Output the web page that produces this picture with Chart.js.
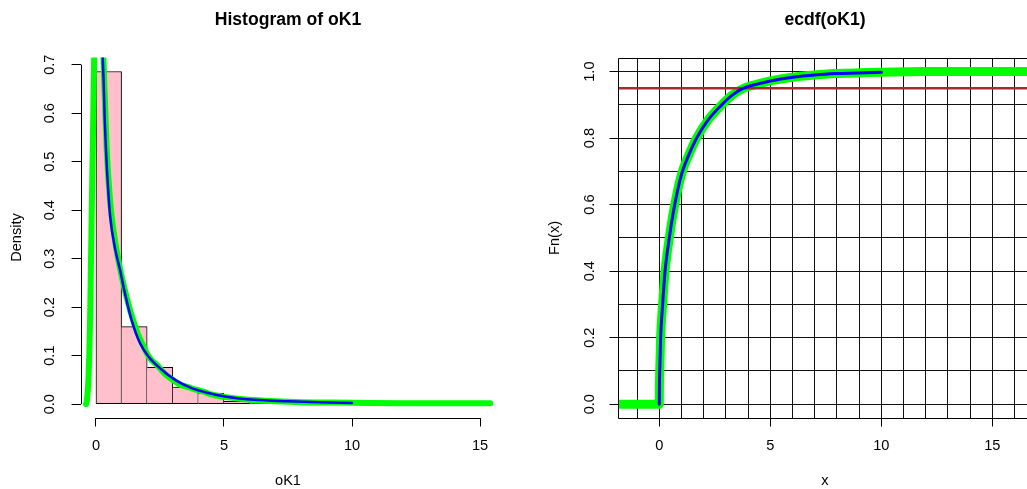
<!DOCTYPE html>
<html>
<head>
<meta charset="utf-8">
<script src="https://cdn.jsdelivr.net/npm/chart.js@4/dist/chart.umd.min.js"></script>
<style>
  html, body { margin: 0; padding: 0; background: #fff; overflow: hidden; }
  #wrap { position: relative; width: 1027px; height: 489px; overflow: hidden; }
  #hist { position: absolute; left: 0; top: 0; }
  #ecdf { position: absolute; left: 513px; top: 0; }
</style>
</head>
<body>
<div id="wrap">
  <canvas id="hist" width="513" height="489"></canvas>
  <canvas id="ecdf" width="530" height="489"></canvas>
</div>
<script>
// histograma: clases de ancho 1 desde 0
let clases = [0.5, 1.5, 2.5, 3.5, 4.5, 5.5, 6.5, 7.5, 8.5, 9.5, 10.5, 11.5, 12.5, 13.5, 14.5]
let densidades = [0.686, 0.160, 0.076, 0.035, 0.023, 0.006, 0.004, 0.002, 0.001, 0.001, 0.0005, 0.0005, 0.0003, 0.0003, 0.0003]

// densidad kernel (verde)
let kernelX = [-0.39, -0.36, -0.30, -0.26, -0.23, -0.20, -0.17, -0.12, -0.06, 0.10, 0.29, 0.42, 0.55, 0.68, 0.9, 1.2, 1.5, 1.8, 2.1, 2.4, 2.7, 3.0, 3.3, 3.6, 3.9, 4.2, 4.5, 5, 6, 7, 8, 10, 12, 15.4]
let kernelY = [0, 0.006, 0.044, 0.106, 0.174, 0.277, 0.38, 0.545, 0.75, 1.0, 0.717, 0.525, 0.42, 0.36, 0.29, 0.22, 0.165, 0.125, 0.095, 0.08, 0.062, 0.05, 0.04, 0.035, 0.03, 0.026, 0.02, 0.015, 0.009, 0.006, 0.004, 0.003, 0.002, 0.002]

// densidad teorica (azul)
let teoX = [0.22, 0.26, 0.30, 0.34, 0.39, 0.48, 0.56, 0.75, 0.94, 1.13, 1.39, 1.72, 2.04, 2.57, 3.09, 3.74, 4.39, 5.04, 6.2, 7.5, 8.7, 10]
let teoY = [0.82, 0.72, 0.665, 0.59, 0.525, 0.44, 0.385, 0.32, 0.277, 0.229, 0.174, 0.126, 0.099, 0.071, 0.05, 0.033, 0.023, 0.016, 0.009, 0.006, 0.004, 0.0025]

// ecdf muestral (verde) y acumulada teorica (azul)
let ecdfX = [-2.5, -0.01, 0, 0.005, 0.02, 0.06, 0.15, 0.26, 0.45, 0.6, 0.8, 1.04, 1.3, 1.68, 2.2, 2.81, 3.3, 3.8, 4.5, 5, 6, 7, 8, 10, 12, 15.3, 18]
let ecdfY = [0, 0, 0, 0.05, 0.1, 0.2, 0.3, 0.4, 0.5, 0.565, 0.635, 0.7, 0.745, 0.8, 0.855, 0.9, 0.93, 0.95, 0.964, 0.972, 0.983, 0.99, 0.994, 0.998, 1, 1, 1]
let acumX = [0, 0.005, 0.02, 0.06, 0.15, 0.26, 0.45, 0.6, 0.8, 1.04, 1.3, 1.68, 2.2, 2.81, 3.3, 3.8, 4.5, 5, 6, 7, 8, 10]
let acumY = [0, 0.05, 0.1, 0.2, 0.3, 0.4, 0.5, 0.565, 0.635, 0.7, 0.745, 0.8, 0.855, 0.9, 0.93, 0.95, 0.964, 0.972, 0.983, 0.99, 0.994, 0.998]
let nivel = 0.95

let puntos = function (xs, ys) {
    return xs.map((x, i) => ({ x: x, y: ys[i] }))
}

Chart.defaults.font.family = 'Liberation Sans, Arial, sans-serif'
Chart.defaults.color = '#000'

let fuente = { size: 14.6, lineHeight: 1 }

// ejes estilo R: linea solo entre primer y ultimo tick, o caja completa
let ejesR = {
    id: 'ejesR',
    afterDatasetsDraw(chart, args, opts) {
        let ctx = chart.ctx
        let a = chart.chartArea
        let sx = chart.scales.x
        let sy = chart.scales.y
        ctx.save()
        ctx.strokeStyle = '#000'
        ctx.lineWidth = 1
        ctx.beginPath()
        if (opts.caja) {
            ctx.rect(Math.round(a.left) + 0.5, Math.round(a.top) + 0.5, a.right - a.left, Math.round(a.bottom) - Math.round(a.top))
        } else {
            let xl = Math.round(a.left) + 0.5
            let yb = Math.round(a.bottom) + 0.5
            ctx.moveTo(sx.getPixelForValue(opts.xDesde), yb)
            ctx.lineTo(sx.getPixelForValue(opts.xHasta), yb)
            ctx.moveTo(xl, sy.getPixelForValue(opts.yDesde))
            ctx.lineTo(xl, sy.getPixelForValue(opts.yHasta))
        }
        ctx.stroke()
        ctx.restore()
    }
}

let linea = function (data, color, ancho) {
    return {
        type: 'line', data: data, borderColor: color, borderWidth: ancho,
        pointRadius: 0, cubicInterpolationMode: 'monotone', fill: false,
        borderCapStyle: 'round', borderJoinStyle: 'round', clip: 0
    }
}

let histograma = new Chart('hist', {
    type: 'bar',
    data: {
        datasets: [
            linea(puntos(teoX, teoY), '#0000ff', 2.5),
            linea(puntos(kernelX, kernelY), '#00ff00', 6),
            {
                type: 'bar',
                data: puntos(clases, densidades),
                backgroundColor: '#ffc0cb',
                borderColor: '#000',
                borderWidth: ctx => ({ left: ctx.dataIndex === 0 ? 1 : 0, right: 1, top: 1, bottom: 1 }),
                borderSkipped: false,
                barPercentage: 1,
                categoryPercentage: 1
            }
        ]
    },
    options: {
        responsive: false,
        animation: false,
        layout: { padding: { left: 0, right: 17.6, top: 0, bottom: 0 } },
        plugins: {
            legend: { display: false },
            tooltip: { enabled: false },
            ejesR: { caja: false, xDesde: 0, xHasta: 15, yDesde: 0, yHasta: 0.7 }
        },
        scales: {
            x: {
                type: 'linear', position: 'bottom', min: -0.6, max: 15.6, offset: false,
                ticks: { stepSize: 5, includeBounds: false, padding: 12, maxRotation: 0, autoSkip: false, font: fuente },
                grid: { drawOnChartArea: false, offset: false, tickLength: 9, color: '#000' },
                border: { display: false },
                title: { display: true, text: 'oK1', font: fuente, padding: { top: 0, bottom: 0.9 } },
                afterFit: s => { s.height = 71.5 }
            },
            y: {
                type: 'linear', position: 'left', min: -0.0275, max: 0.7148,
                ticks: {
                    stepSize: 0.1, includeBounds: false, minRotation: 90, maxRotation: 90,
                    crossAlign: 'center', padding: 11, autoSkip: false, font: fuente,
                    callback: v => v.toFixed(1)
                },
                grid: { drawOnChartArea: false, tickLength: 9, color: '#000' },
                border: { display: false },
                title: { display: true, text: 'Density', font: fuente, padding: { top: 9.7, bottom: 0 } },
                afterFit: s => { s.width = 80.6 }
            },
            titulo: {
                type: 'linear', position: 'top', min: 0, max: 1,
                ticks: { display: false },
                grid: { display: false },
                border: { display: false },
                title: { display: true, text: 'Histogram of oK1', font: { size: 17.6, weight: 'bold', lineHeight: 1 }, padding: { top: 11.7, bottom: 0 } },
                afterFit: s => { s.height = 57.5 }
            }
        }
    },
    plugins: [ejesR]
})

let acumulada = new Chart('ecdf', {
    type: 'line',
    data: {
        datasets: [
            linea(puntos(acumX, acumY), '#0000ff', 3),
            linea([{ x: -3, y: nivel }, { x: 20, y: nivel }], '#a52a2a', 2.5),
            linea(puntos(ecdfX, ecdfY), '#00ff00', 9)
        ]
    },
    options: {
        responsive: false,
        animation: false,
        layout: { padding: { left: 0, right: 11, top: 0, bottom: 0 } },
        plugins: {
            legend: { display: false },
            tooltip: { enabled: false },
            ejesR: { caja: true }
        },
        scales: {
            x: {
                type: 'linear', position: 'bottom', min: -1.86, max: 16.79,
                ticks: {
                    stepSize: 1, includeBounds: false, padding: 12, maxRotation: 0, autoSkip: false, font: fuente,
                    callback: v => (v % 5 === 0 ? String(v) : '')
                },
                grid: {
                    tickLength: 9, color: '#111',
                    tickColor: ctx => (ctx.tick && ctx.tick.value % 5 === 0 ? '#000' : 'rgba(0,0,0,0)')
                },
                border: { display: false },
                title: { display: true, text: 'x', font: fuente, padding: { top: 0, bottom: 0.9 } },
                afterFit: s => { s.height = 71.5 }
            },
            y: {
                type: 'linear', position: 'left', min: -0.04, max: 1.04,
                ticks: {
                    stepSize: 0.1, includeBounds: false, minRotation: 90, maxRotation: 90,
                    crossAlign: 'center', padding: 9.6, autoSkip: false, font: fuente,
                    callback: v => (Math.round(v * 10) % 2 === 0 ? v.toFixed(1) : '')
                },
                grid: {
                    tickLength: 8.5, color: '#111',
                    tickColor: ctx => (ctx.tick && Math.round(ctx.tick.value * 10) % 2 === 0 ? '#000' : 'rgba(0,0,0,0)')
                },
                border: { display: false },
                title: { display: true, text: 'Fn(x)', font: fuente, padding: { top: 34.4, bottom: 0 } },
                afterFit: s => { s.width = 105 }
            },
            titulo: {
                type: 'linear', position: 'top', min: 0, max: 1,
                ticks: { display: false },
                grid: { display: false },
                border: { display: false },
                title: { display: true, text: 'ecdf(oK1)', font: { size: 17.6, weight: 'bold', lineHeight: 1 }, padding: { top: 11.7, bottom: 0 } },
                afterFit: s => { s.height = 58.3 }
            }
        }
    },
    plugins: [ejesR]
})
</script>
</body>
</html>
